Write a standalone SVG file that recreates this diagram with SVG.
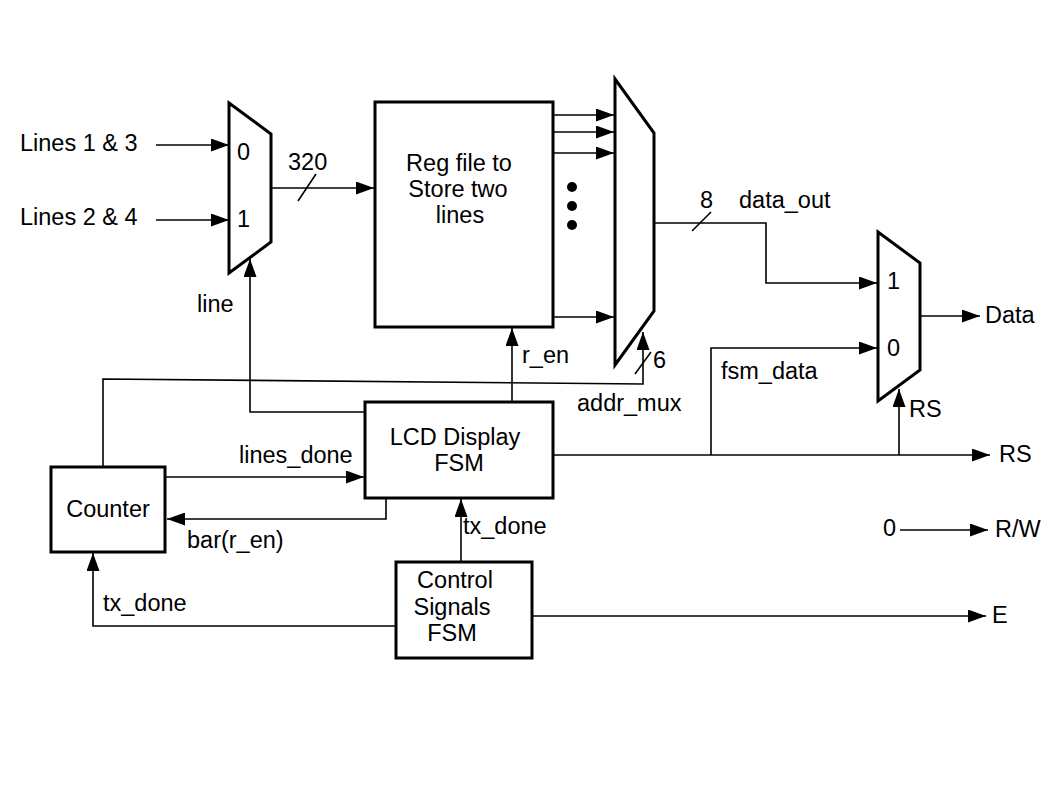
<svg xmlns="http://www.w3.org/2000/svg" width="1058" height="794" viewBox="0 0 1058 794">
<style>
text{font-family:"Liberation Sans",Arial,sans-serif;font-size:23.5px;fill:#000}
.box{fill:#fff;stroke:#000;stroke-width:3}
.mux{fill:#fff;stroke:#000;stroke-width:3;stroke-linejoin:miter}
.w{fill:none;stroke:#000;stroke-width:1.6}
.wa{fill:none;stroke:#000;stroke-width:1.6;marker-end:url(#ah)}
.m{text-anchor:middle}
</style>
<defs>
<marker id="ah" markerUnits="userSpaceOnUse" markerWidth="19" markerHeight="13" refX="18" refY="6.5" orient="auto">
<path d="M0,0 L18,6.5 L0,13 z" fill="#000"/>
</marker>
</defs>
<rect width="1058" height="794" fill="#fff"/>

<g id="connectors">
<line class="wa" x1="156" y1="145" x2="229" y2="145"/>
<line class="wa" x1="156" y1="220" x2="229" y2="220"/>
<line class="wa" x1="271" y1="188" x2="374" y2="188"/>
<line class="w" x1="298" y1="201" x2="316" y2="174"/>
<line class="wa" x1="553" y1="115" x2="614" y2="115"/>
<line class="wa" x1="553" y1="132" x2="614" y2="132"/>
<line class="wa" x1="553" y1="153" x2="614" y2="153"/>
<line class="wa" x1="553" y1="317" x2="614" y2="317"/>
<polyline class="wa" points="654,223 766,223 766,283 877,283"/>
<line class="w" x1="692" y1="231" x2="711" y2="212"/>
<polyline class="wa" points="711,455 711,348 877,348"/>
<line class="wa" x1="553" y1="455" x2="990" y2="455"/>
<line class="wa" x1="899" y1="455" x2="899" y2="389"/>
<line class="wa" x1="920" y1="316" x2="980" y2="316"/>
<polyline class="wa" points="103,467 103,379 643,384 643,332"/>
<line class="w" x1="635" y1="374" x2="651" y2="352"/>
<polyline class="wa" points="365,412 250,412 250,259"/>
<line class="wa" x1="512" y1="402" x2="512" y2="328"/>
<line class="wa" x1="165" y1="477" x2="364" y2="477"/>
<polyline class="wa" points="386,498 386,519 167,519"/>
<line class="wa" x1="461" y1="562" x2="461" y2="499"/>
<polyline class="wa" points="396,626 93,626 93,553"/>
<line class="wa" x1="532" y1="616" x2="986" y2="616"/>
<line class="wa" x1="900" y1="530" x2="988" y2="530"/>
</g>

<g id="labels">
<text x="20" y="151">Lines 1 &amp; 3</text>
<text x="20" y="225">Lines 2 &amp; 4</text>
<text x="288" y="170">320</text>
<text x="197" y="312">line</text>
<text x="700" y="208">8</text>
<text x="739" y="208">data_out</text>
<text x="721" y="379">fsm_data</text>
<text x="522" y="363">r_en</text>
<text x="653" y="368">6</text>
<text x="577" y="411">addr_mux</text>
<text x="985" y="323">Data</text>
<text x="909" y="417">RS</text>
<text x="999" y="462">RS</text>
<text x="239" y="463">lines_done</text>
<text x="187" y="548">bar(r_en)</text>
<text x="463" y="534">tx_done</text>
<text x="103" y="611">tx_done</text>
<text x="883" y="536">0</text>
<text x="995" y="537">R/W</text>
<text x="992" y="623">E</text>
</g>

<g id="mux1">
<polygon class="mux" points="229,103 271,134 271,242 229,273"/>
<text x="237" y="160">0</text>
<text x="237" y="227">1</text>
</g>

<g id="regfile">
<rect class="box" x="375" y="102" width="178" height="225"/>
<text class="m" x="459" y="171">Reg file to</text>
<text class="m" x="458" y="197">Store two</text>
<text class="m" x="460" y="223">lines</text>
<circle cx="572" cy="187" r="5"/>
<circle cx="572" cy="206" r="5"/>
<circle cx="572" cy="225" r="5"/>
</g>

<g id="mux2">
<polygon class="mux" points="615,79 654,133 654,311 615,365"/>
</g>

<g id="mux3">
<polygon class="mux" points="878,232 920,263 920,370 878,401"/>
<text x="887" y="289">1</text>
<text x="887" y="356">0</text>
</g>

<g id="lcd">
<rect class="box" x="365" y="402" width="188" height="96"/>
<text class="m" x="455" y="445">LCD Display</text>
<text class="m" x="459" y="471">FSM</text>
</g>

<g id="counter">
<rect class="box" x="51" y="467" width="114" height="85"/>
<text class="m" x="108" y="517">Counter</text>
</g>

<g id="control">
<rect class="box" x="396" y="562" width="136" height="96"/>
<text class="m" x="455" y="588">Control</text>
<text class="m" x="452" y="615">Signals</text>
<text class="m" x="452" y="641">FSM</text>
</g>
</svg>
